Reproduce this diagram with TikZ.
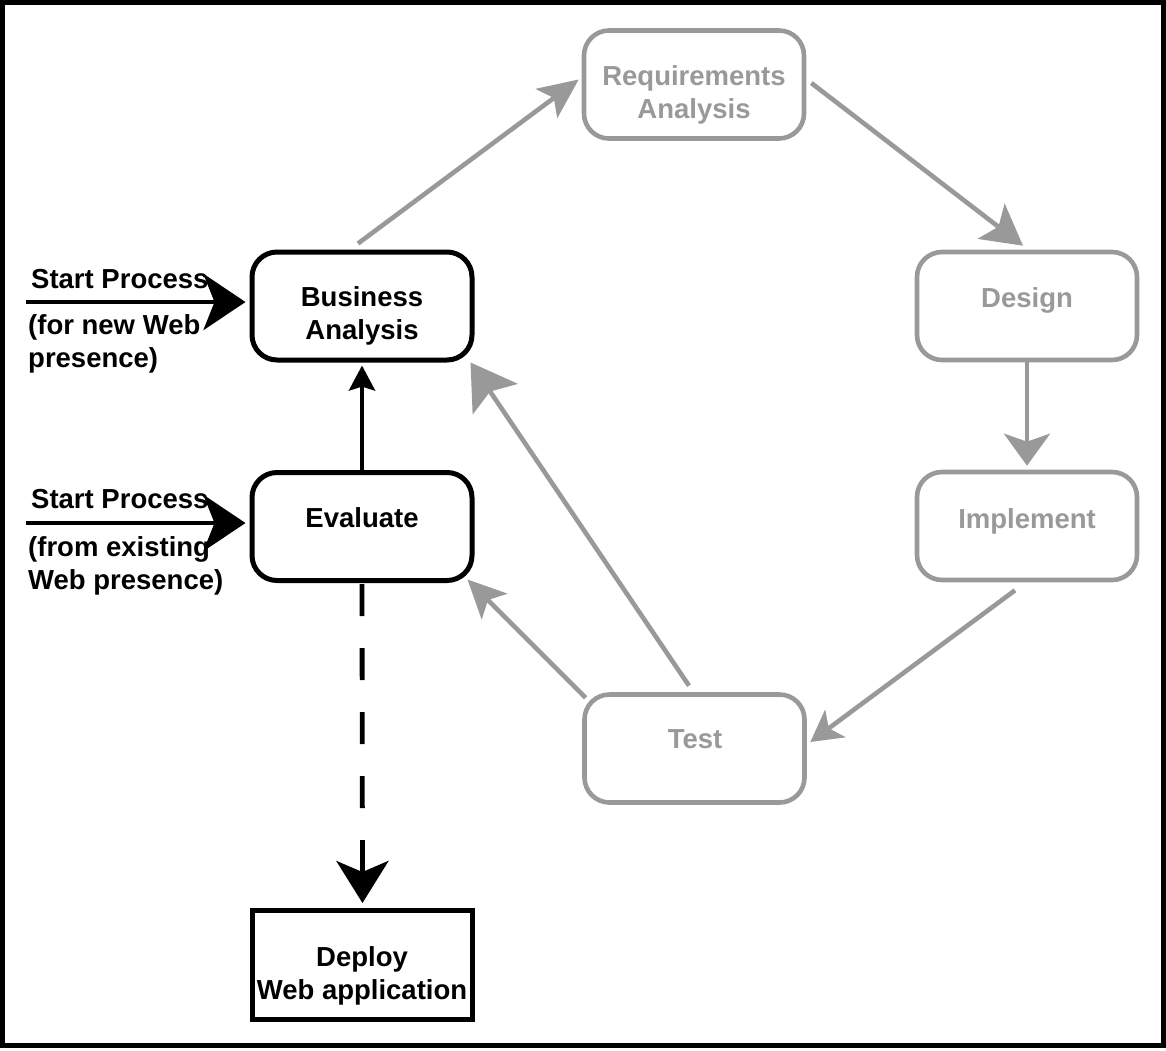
\documentclass[tikz,border=0pt]{standalone}
\usepackage{fontspec}
\setmainfont{Liberation Sans}
\usetikzlibrary{arrows.meta,calc}
\definecolor{phasegray}{HTML}{999999}

\begin{document}
\begin{tikzpicture}[x=1pt,y=-1pt,
  lbl/.style={font=\fontsize{27.5}{33}\selectfont\bfseries, inner sep=0pt, align=center},
  sidelbl/.style={font=\fontsize{27.5}{33}\selectfont\bfseries, inner sep=0pt, align=left},
  boxbase/.style={minimum width=220pt, minimum height=108pt, inner sep=0pt},
  darkbox/.style={boxbase, draw=black, line width=5pt, rounded corners=25pt},
  lightbox/.style={boxbase, draw=phasegray, line width=4.6pt, rounded corners=25pt},
  finalbox/.style={boxbase, minimum height=109pt, draw=black, line width=5pt},
  darkline/.style={draw=black, line width=4.8pt},
  lightline/.style={draw=phasegray, line width=4.6pt},
  bigtip/.style={-{Stealth[length=42pt,width=56pt,inset=11pt]}},
]
% canvas and frame
\useasboundingbox (0,0) rectangle (1166,1050);
\fill[white] (0,0) rectangle (1166,1050);
\draw[line width=5pt] (2.5,2.2) rectangle (1163.8,1045.8);

% process boxes
\node[darkbox]  (ba)     at (362,306)   {};
\node[darkbox]  (eval)   at (362,526.5) {};
\node[lightbox] (req)    at (694,84.5)  {};
\node[lightbox] (design) at (1027,306)  {};
\node[lightbox] (impl)   at (1027,526)  {};
\node[lightbox] (test)   at (694.5,748.5) {};
\node[finalbox] (deploy) at (362.5,965) {};

% box captions
\node[lbl] (ba-t) at (362,316) {Business\\Analysis};
\node[lbl, anchor=base] (eval-t) at (362,527) {Evaluate};
\node[lbl, text=phasegray] (req-t) at (694,95) {Requirements\\Analysis};
\node[lbl, text=phasegray, anchor=base] (design-t) at (1027,307) {Design};
\node[lbl, text=phasegray, anchor=base] (impl-t) at (1027,528) {Implement};
\node[lbl, text=phasegray, anchor=base] (test-t) at (695,748) {Test};
\node[lbl] (deploy-t) at (362,976) {Deploy\\Web application};

% entry points
\coordinate (s1) at (26,302);
\coordinate (s2) at (26,523);
\draw[darkline, bigtip, shorten >=4pt] (s1) -- (s1 -| ba.west);
\draw[darkline, bigtip, shorten >=4pt] (s2) -- (s2 -| eval.west);
\node[sidelbl, anchor=base west] (s1-a) at (31,288) {Start Process};
\node[sidelbl, anchor=west] (s1-b) at (28,344) {(for new Web\\presence)};
\node[sidelbl, anchor=base west] (s2-a) at (31,508) {Start Process};
\node[sidelbl, anchor=west] (s2-b) at (28,566) {(from existing\\Web presence)};

% black connectors
\draw[darkline, -{Stealth[length=25pt,width=26pt,inset=4pt]}, shorten <=-4pt, shorten >=3pt]
  (eval.north) -- (ba.south);
\draw[darkline, dash pattern=on 32pt off 32pt, -{Stealth[length=42pt,width=52pt,inset=11pt]}, shorten <=1pt, shorten >=5pt]
  (eval.south) -- (deploy.north);

% grey development cycle
\draw[lightline, -{Stealth[length=40pt,width=36pt,inset=9pt]}]
  ($(ba.north)+(-4,-6)$) -- ($(req.west)+(-3,-5)$);
\draw[lightline, -{Stealth[length=40pt,width=44pt,inset=9pt]}]
  ($(req.east)+(5,-1.5)$) -- ($(design.north)+(-4,-4)$);
\draw[lightline, -{Stealth[length=32pt,width=46pt,inset=8pt]}, shorten >=4pt]
  (design.south) -- (impl.north);
\draw[lightline, -{Stealth[length=31pt,width=34pt,inset=8pt]}]
  ($(impl.south)+(-12,8)$) -- ($(test.east)+(3.5,-6.5)$);
\draw[lightline, -{Stealth[length=38pt,width=36pt,inset=9pt]}]
  ($(test.north west)+(3.5,5.5)$) -- ($(eval.south east)+(-7,-3.5)$);
\draw[lightline, -{Stealth[length=44pt,width=54pt,inset=9pt]}]
  ($(test.north)+(-5.5,-6.5)$) -- ($(ba.south east)+(-4,0)$);
\end{tikzpicture}
\end{document}
